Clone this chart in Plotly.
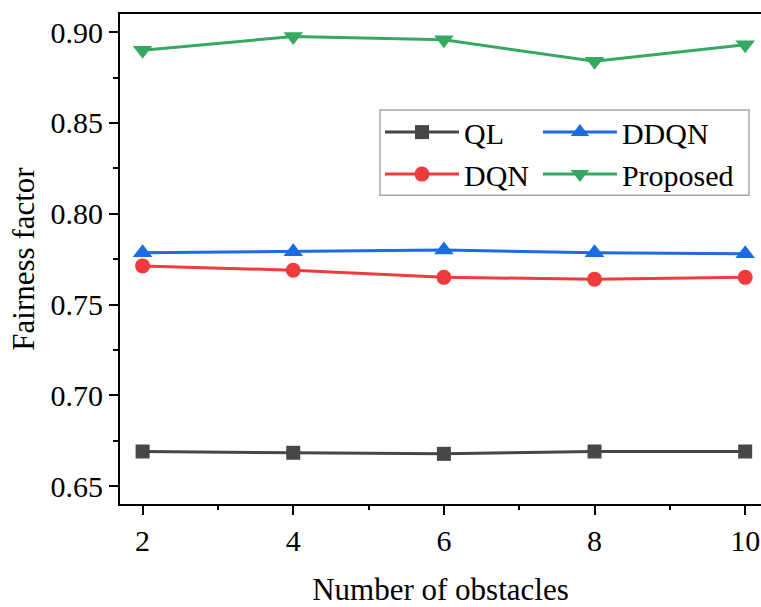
import plotly.graph_objects as go

obstacles = [2, 4, 6, 8, 10]
ql = [0.6691, 0.6684, 0.6678, 0.6691, 0.6691]
dqn = [0.7713, 0.7689, 0.7650, 0.7640, 0.7650]
ddqn = [0.7786, 0.7791, 0.7800, 0.7786, 0.7780]
proposed = [0.8900, 0.8976, 0.8958, 0.8840, 0.8931]

FONT = "Liberation Serif, Times New Roman, serif"

fig = go.Figure()
series = [
    ("QL", ql, "#474747", "square", 14, "legend"),
    ("DQN", dqn, "#ef3b3b", "circle", 15, "legend"),
    ("DDQN", ddqn, "#1a6ce0", "triangle-up", 17, "legend2"),
    ("Proposed", proposed, "#37a862", "triangle-down", 17, "legend2"),
]
for name, vals, color, sym, size, lg in series:
    fig.add_trace(go.Scatter(
        x=obstacles, y=vals, name=name, mode="lines+markers",
        line=dict(color=color, width=3),
        marker=dict(symbol=sym, size=size, color=color),
        legend=lg,
    ))

fig.update_layout(
    width=761, height=607,
    margin=dict(l=120, r=0, t=14, b=98),
    plot_bgcolor="white", paper_bgcolor="white",
    font=dict(family=FONT, size=30, color="black"),
    showlegend=True,
    legend=dict(x=0.4056, y=0.812, xanchor="left", yanchor="top",
                bgcolor="rgba(0,0,0,0)", font=dict(size=30), tracegroupgap=0,
                itemwidth=74),
    legend2=dict(x=0.652, y=0.812, xanchor="left", yanchor="top",
                 bgcolor="rgba(0,0,0,0)", font=dict(size=30), tracegroupgap=0,
                 itemwidth=74),
    shapes=[dict(type="rect", xref="paper", yref="paper",
                 x0=0.4056, x1=0.9813, y0=0.6303, y1=0.804,
                 line=dict(color="#a8a8a8", width=1.5))],
)

fig.update_xaxes(
    range=[1.7, 10.21], tickmode="linear", tick0=2, dtick=2,
    showline=True, linecolor="black", linewidth=2, mirror=True,
    ticks="outside", ticklen=9, tickwidth=2, tickcolor="black",
    minor=dict(ticks="outside", ticklen=4, tickwidth=2, dtick=1, tick0=1, tickcolor="black"),
    showgrid=False, zeroline=False,
    tickfont=dict(size=30),
    title=dict(text="Number of obstacles", font=dict(size=31), standoff=28),
)
fig.update_yaxes(
    range=[0.6402, 0.910], tickmode="linear", tick0=0.65, dtick=0.05,
    tickformat=".2f",
    showline=True, linecolor="black", linewidth=2, mirror=False,
    ticks="outside", ticklen=9, tickwidth=2, tickcolor="black",
    minor=dict(ticks="outside", ticklen=5, tickwidth=2, dtick=0.025, tickcolor="black"),
    showgrid=False, zeroline=False,
    tickfont=dict(size=30),
    title=dict(text="Fairness factor", font=dict(size=31), standoff=7),
)

fig.write_html("out.html")
